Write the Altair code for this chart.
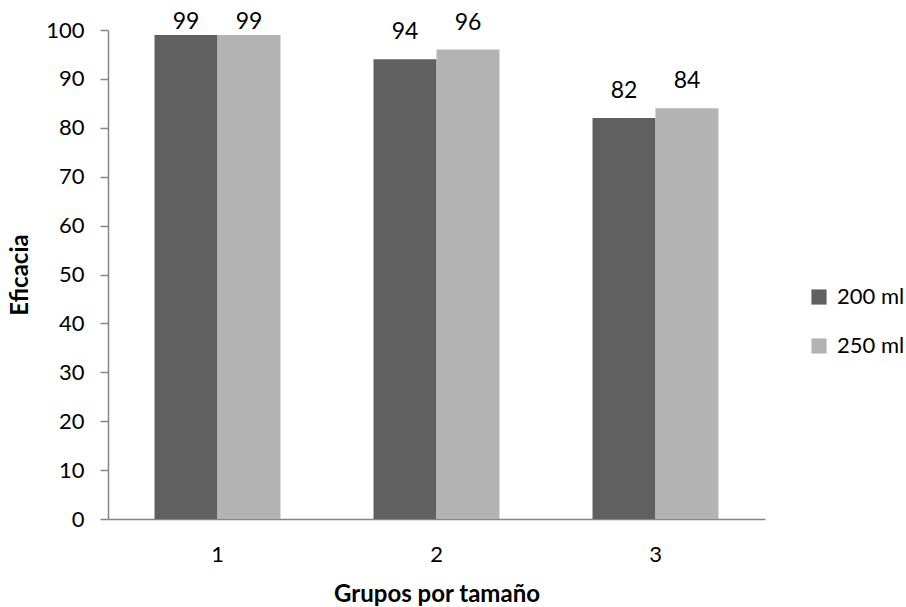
import altair as alt
import pandas as pd

# Efficacy by size group for two container volumes
grupos = ["1", "2", "3"]
series = ["200 ml", "250 ml"]
eficacia_200 = [99, 94, 82]
eficacia_250 = [99, 96, 84]
colores = ["#606060", "#b3b3b3"]

rows = []
for g, a, b in zip(grupos, eficacia_200, eficacia_250):
    rows.append({"grupo": g, "serie": series[0], "valor": a})
    rows.append({"grupo": g, "serie": series[1], "valor": b})
df = pd.DataFrame(rows)

FONT = "Lato"
AXIS_GRAY = "#868686"

x = alt.X(
    "grupo:N",
    title="Grupos por tamaño",
    scale=alt.Scale(paddingInner=0.425, paddingOuter=0.2125),
    axis=alt.Axis(labelAngle=0, labelPadding=25, ticks=False, titlePadding=17),
)
x_off = alt.XOffset("serie:N", scale=alt.Scale(domain=series, paddingInner=0, paddingOuter=0))
y = alt.Y(
    "valor:Q",
    title="Eficacia",
    scale=alt.Scale(domain=[0, 100], nice=False),
    axis=alt.Axis(
        values=list(range(0, 101, 10)),
        grid=False,
        labelPadding=16,
        tickSize=8,
        tickColor=AXIS_GRAY,
        tickWidth=1.5,
        titlePadding=13,
    ),
)
color = alt.Color(
    "serie:N",
    scale=alt.Scale(domain=series, range=colores),
    legend=alt.Legend(
        title=None,
        orient="none",
        legendX=700,
        legendY=256,
        symbolType="square",
        symbolSize=230,
        symbolStrokeWidth=0,
        labelFontSize=22,
        labelFont=FONT,
        labelColor="#000000",
        labelOffset=7,
        rowPadding=27,
    ),
)

base = alt.Chart(df).encode(x=x, xOffset=x_off)

bars = base.mark_bar(size=63).encode(y=y, color=color)

# value labels sit a fixed gap above each bar, kept inside the top of the plot
labels = (
    base.transform_calculate(pos="min(datum.valor + 4.1, 100.2)")
    .mark_text(baseline="alphabetic", fontSize=23, font=FONT, color="#000000")
    .encode(
        y=alt.Y("pos:Q", title="Eficacia", scale=alt.Scale(domain=[0, 100], nice=False)),
        text=alt.Text("valor:Q"),
    )
)

chart = (
    alt.layer(bars, labels)
    .properties(
        width=657,
        height=489,
        background="#ffffff",
        padding={"left": 108, "top": 30, "right": 141, "bottom": 88},
        autosize=alt.AutoSizeParams(type="none"),
    )
    .configure_view(strokeWidth=0, stroke="transparent")
    .configure_axis(
        labelFont=FONT,
        labelFontSize=22,
        labelColor="#000000",
        domainColor=AXIS_GRAY,
        domainWidth=1.5,
        titleFont=FONT,
        titleFontSize=24,
        titleFontWeight="bold",
        titleColor="#000000",
    )
)

chart.save("out.html", embed_options={"renderer": "svg", "actions": False})
